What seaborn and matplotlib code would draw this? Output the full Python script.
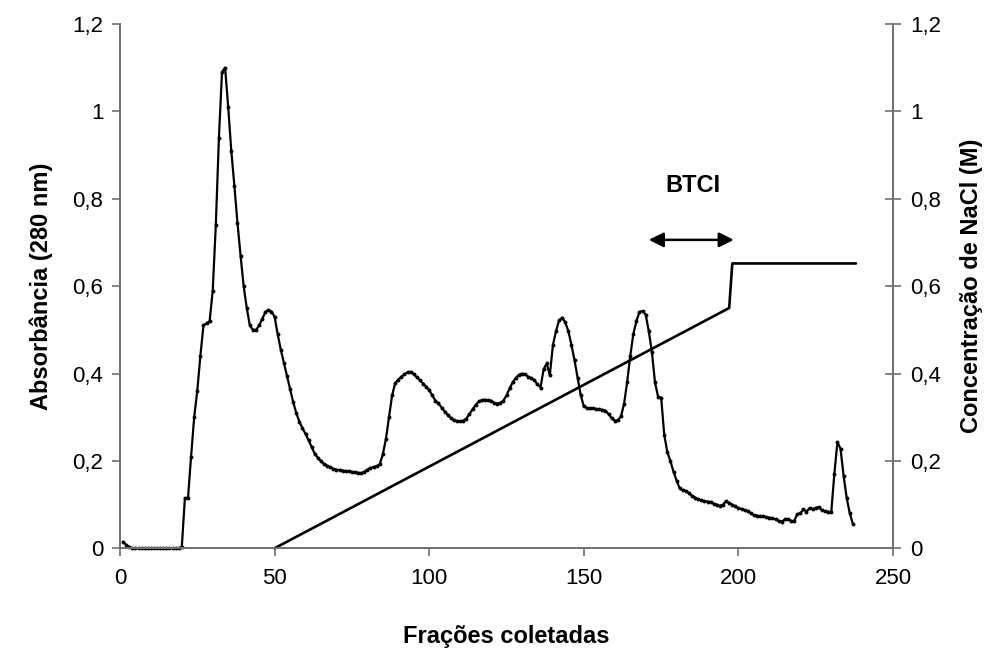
import matplotlib
matplotlib.use("Agg")
import matplotlib.pyplot as plt
from matplotlib.ticker import FuncFormatter
import numpy as np
import pandas as pd
import seaborn as sns

# absorbance at 280 nm, one value per collected fraction (1..237)
absorbance = [
    0.015, 0.008, 0.003, 0, 0, 0, 0, 0, 0, 0,
    0, 0, 0, 0, 0, 0, 0, 0, 0, 0.003,
    0.115, 0.115, 0.21, 0.30, 0.36, 0.44, 0.51, 0.515, 0.52, 0.59,
    0.74, 0.94, 1.09, 1.10, 1.01, 0.91, 0.83, 0.745, 0.67, 0.60,
    0.55, 0.51, 0.50, 0.50, 0.51, 0.525, 0.54, 0.546, 0.542, 0.53,
    0.49, 0.455, 0.425, 0.395, 0.365, 0.335, 0.31, 0.29, 0.275, 0.262,
    0.247, 0.232, 0.216, 0.207, 0.199, 0.193, 0.189, 0.185, 0.182, 0.18,
    0.179, 0.178, 0.177, 0.176, 0.175, 0.174, 0.173, 0.172, 0.175, 0.18,
    0.184, 0.186, 0.188, 0.192, 0.215, 0.25, 0.30, 0.35, 0.378, 0.386,
    0.393, 0.398, 0.403, 0.404, 0.399, 0.391, 0.385, 0.377, 0.37, 0.362,
    0.35, 0.338, 0.332, 0.322, 0.313, 0.305, 0.298, 0.293, 0.291, 0.291,
    0.292, 0.297, 0.307, 0.318, 0.328, 0.336, 0.339, 0.34, 0.339, 0.338,
    0.333, 0.331, 0.333, 0.338, 0.35, 0.366, 0.38, 0.39, 0.397, 0.4,
    0.398, 0.393, 0.389, 0.385, 0.375, 0.368, 0.41, 0.423, 0.396, 0.465,
    0.497, 0.522, 0.528, 0.517, 0.497, 0.465, 0.43, 0.39, 0.35, 0.325,
    0.321, 0.32, 0.32, 0.319, 0.318, 0.317, 0.315, 0.307, 0.298, 0.292,
    0.293, 0.302, 0.33, 0.38, 0.44, 0.49, 0.52, 0.541, 0.543, 0.535,
    0.497, 0.45, 0.38, 0.347, 0.345, 0.26, 0.22, 0.2, 0.175, 0.155,
    0.137, 0.133, 0.131, 0.126, 0.12, 0.116, 0.112, 0.11, 0.108, 0.107,
    0.106, 0.102, 0.1, 0.097, 0.1, 0.108, 0.103, 0.1, 0.096, 0.092,
    0.09, 0.087, 0.085, 0.08, 0.076, 0.075, 0.073, 0.073, 0.071, 0.07,
    0.069, 0.066, 0.063, 0.061, 0.066, 0.066, 0.063, 0.062, 0.078, 0.08,
    0.089, 0.084, 0.092, 0.09, 0.093, 0.094, 0.087, 0.085, 0.084, 0.082,
    0.17, 0.243, 0.228, 0.166, 0.115, 0.08, 0.056,
]
fractions = list(range(1, len(absorbance) + 1))

# NaCl gradient (M): linear ramp then step to final concentration
nacl_fractions = [50, 197, 198, 238]
nacl_conc = [0.0, 0.55, 0.652, 0.652]

# BTCI pool
btci_start, btci_end, btci_level = 171, 198.5, 0.706

sns.set_style("white")
plt.rcParams['font.family'] = ['Liberation Sans', 'DejaVu Sans']
plt.rcParams['text.color'] = 'black'
plt.rcParams['axes.labelcolor'] = 'black'

df_abs = pd.DataFrame({'frac': fractions, 'abs': absorbance})
df_nacl = pd.DataFrame({'frac': nacl_fractions, 'nacl': nacl_conc})

fig = plt.figure(figsize=(10.08, 6.5), dpi=100)
ax = fig.add_axes([0.119, 0.1565, 0.767, 0.8065])
ax2 = ax.twinx()

sns.lineplot(data=df_abs, x='frac', y='abs', ax=ax, color='black', lw=1.6,
             marker='o', markersize=2.8, markeredgewidth=0, clip_on=False)
sns.lineplot(data=df_nacl, x='frac', y='nacl', ax=ax2, color='black', lw=1.9,
             clip_on=False)

fmt = FuncFormatter(lambda v, p: ('%g' % round(v, 2)).replace('.', ','))
for a in (ax, ax2):
    a.set_xlim(0, 250)
    a.set_ylim(0, 1.2)
    a.set_yticks(np.arange(0, 1.21, 0.2))
    a.yaxis.set_major_formatter(fmt)
    for s in a.spines.values():
        s.set_color('#707070')
        s.set_linewidth(1.3)
    a.spines['top'].set_visible(False)

ax.set_xticks(range(0, 251, 50))
ax.tick_params(axis='x', direction='out', length=6, width=1.2, color='#707070',
               labelcolor='black', labelsize=16, pad=8, bottom=True)
ax.tick_params(axis='y', direction='out', length=6, width=1.2, color='#707070',
               labelcolor='black', labelsize=16, pad=6, left=True)
ax2.tick_params(axis='y', direction='inout', length=12, width=1.2, color='#707070',
                labelcolor='black', labelsize=16, pad=6, right=True)

ax.set_xlabel('Frações coletadas', fontsize=17, fontweight='bold', labelpad=26)
ax.set_ylabel('Absorbância (280 nm)', fontsize=17, fontweight='bold', labelpad=14)
ax2.set_ylabel('Concentração de NaCl (M)', fontsize=17, fontweight='bold', labelpad=14)

ax.annotate('', xy=(btci_start, btci_level), xytext=(btci_end, btci_level),
            arrowprops=dict(arrowstyle='<|-|>', color='black', lw=1.8,
                            mutation_scale=22, shrinkA=0, shrinkB=0))
ax.text((btci_start + btci_end) / 2 + 0.5, 0.83, 'BTCI', ha='center', va='center',
        fontsize=17, fontweight='bold')

fig.savefig('out.png', dpi=100)
